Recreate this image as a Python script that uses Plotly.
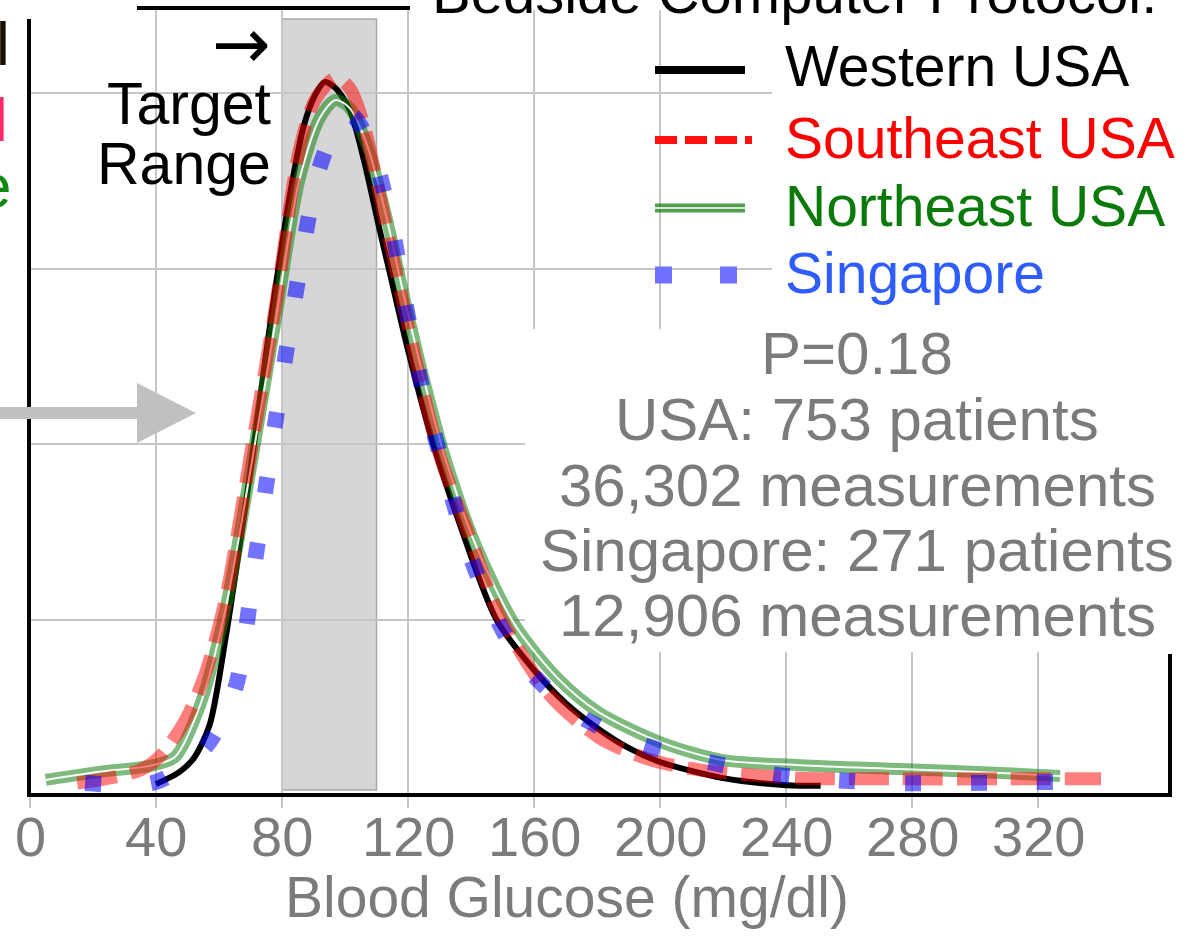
import plotly.graph_objects as go

# ---------------- data ----------------
western_x = [40, 47.5, 52, 57, 62, 70, 76, 82.5, 87, 90.5, 93.5, 97, 101.5, 106, 111, 114,
             120, 128, 136, 148, 160, 170, 180, 190, 200, 220, 240, 251]
western_y = [0.00031, 0.00066, 0.00105, 0.00199, 0.00442, 0.00926, 0.01325, 0.01709, 0.01909,
             0.01994, 0.02031, 0.02014, 0.01952, 0.01809, 0.01610, 0.01496, 0.01268, 0.01000,
             0.00783, 0.00501, 0.00356, 0.00262, 0.00191, 0.00134, 0.00094, 0.00048, 0.00028,
             0.00026]

southeast_x = [15, 25, 35, 41, 49, 55.5, 62, 70, 78, 85.5, 90.5, 97, 101.5, 106, 111, 117.5,
               124, 130, 140, 149, 165, 181, 197, 213, 229, 244, 276, 308, 340]
southeast_y = [0.00034, 0.00048, 0.00071, 0.00108, 0.00208, 0.00342, 0.00556, 0.00969, 0.01396,
               0.01838, 0.01980, 0.02043, 0.02014, 0.01909, 0.01709, 0.01439, 0.01182, 0.00969,
               0.00726, 0.00513, 0.00285, 0.00162, 0.00100, 0.00071, 0.00057, 0.00048, 0.00046,
               0.00046, 0.00046]

northeast_x = [5, 22, 38, 46, 54, 62, 70, 78, 85.5, 92, 97, 101.5, 107, 113, 119, 125.5,
               132, 141.5, 154, 167.5, 180.5, 200, 219.5, 244.5, 276, 308, 327]
northeast_y = [0.00043, 0.00066, 0.00083, 0.00108, 0.00256, 0.00527, 0.00926, 0.01353, 0.01752,
               0.01929, 0.01980, 0.01957, 0.01852, 0.01652, 0.01410, 0.01168, 0.00954, 0.00712,
               0.00484, 0.00333, 0.00236, 0.00151, 0.00100, 0.00085, 0.00074, 0.00063, 0.00054]

singapore_x = [17.5, 40, 55.5, 65, 71.5, 78, 84, 91.5, 97, 102, 108, 114.5, 119, 125, 132.5,
               138, 146, 157, 174, 192, 212.5, 235, 254, 276, 295, 317.5, 338]
singapore_y = [0.00034, 0.00037, 0.00134, 0.00299, 0.00670, 0.01068, 0.01410, 0.01775, 0.01895,
               0.01937, 0.01852, 0.01638, 0.01410, 0.01140, 0.00897, 0.00726, 0.00541, 0.00370,
               0.00228, 0.00151, 0.00100, 0.00060, 0.00043, 0.00034, 0.00034, 0.00037, 0.00037]

x_ticks = [0, 40, 80, 120, 160, 200, 240, 280, 320]
y_grid = [0.005, 0.010, 0.015, 0.020]
target_range = [80, 110]

legend_names = ["Western USA", "Southeast USA", "Northeast USA", "Singapore"]
legend_colors = ["#000000", "#ff0000", "#0a7a0a", "#2f5cff"]
stats_lines = ["P=0.18", "USA: 753 patients", "36,302 measurements",
               "Singapore: 271 patients", "12,906 measurements"]

# ---------------- layout geometry ----------------
W, H = 1204, 938
ML, MR, MT, MB = 30, 34, 10, 143
PW, PH = W - ML - MR, H - MT - MB
X_MAX = 361.9
Y_MAX = 0.022365
FONT = "Liberation Sans, Arial, Helvetica, sans-serif"
GRAY_TXT = "#7b7b7b"
GRID = "#c6c6c6"


def px(xp):
    return (xp - ML) / PW


def py(yp):
    return (H - MB - yp) / PH


def dx(xp):
    return px(xp) * X_MAX


def dy(yp):
    return py(yp) * Y_MAX


fig = go.Figure()

fig.add_trace(go.Scatter(x=western_x, y=western_y, mode="lines", name="Western USA",
                         line=dict(color="black", width=6, shape="spline", smoothing=0.8),
                         showlegend=False))
fig.add_trace(go.Scatter(x=northeast_x, y=northeast_y, mode="lines", name="Northeast USA",
                         line=dict(color="rgba(20,130,20,0.55)", width=12, shape="spline", smoothing=0.8),
                         showlegend=False))
fig.add_trace(go.Scatter(x=northeast_x, y=northeast_y, mode="lines", name="Northeast USA core",
                         line=dict(color="rgba(255,255,255,0.95)", width=2, shape="spline", smoothing=0.8),
                         showlegend=False, hoverinfo="skip"))
fig.add_trace(go.Scatter(x=southeast_x, y=southeast_y, mode="lines", name="Southeast USA",
                         line=dict(color="rgba(255,0,0,0.5)", width=13, dash="40px,14px",
                                   shape="spline", smoothing=0.8),
                         showlegend=False))
fig.add_trace(go.Scatter(x=singapore_x, y=singapore_y, mode="lines", name="Singapore",
                         line=dict(color="rgba(0,0,255,0.55)", width=16, dash="16px,50px",
                                   shape="spline", smoothing=0.8),
                         showlegend=False))

shapes = []
# target range box
shapes.append(dict(type="rect", xref="x", yref="paper", x0=target_range[0], x1=target_range[1],
                   y0=py(790), y1=py(19), fillcolor="#d6d6d6",
                   line=dict(color="#a9a9a9", width=1.5), layer="below"))
# white backgrounds hiding gridlines (between gridlines and traces)
shapes.append(dict(type="rect", xref="x", yref="y", x0=dx(772), x1=dx(1215),
                   y0=dy(330), y1=dy(-10), fillcolor="white", line=dict(width=0), layer="between"))
shapes.append(dict(type="rect", xref="x", yref="y", x0=dx(525), x1=dx(1215),
                   y0=dy(652), y1=dy(329), fillcolor="white", line=dict(width=0), layer="between"))
# axis lines
shapes.append(dict(type="line", xref="paper", yref="paper", x0=px(29), x1=px(29),
                   y0=py(797), y1=py(19), line=dict(color="black", width=4), layer="above"))
shapes.append(dict(type="line", xref="paper", yref="paper", x0=px(27), x1=px(1172),
                   y0=py(795), y1=py(795), line=dict(color="black", width=4), layer="above"))
shapes.append(dict(type="line", xref="paper", yref="paper", x0=px(1170), x1=px(1170),
                   y0=py(797), y1=py(654), line=dict(color="black", width=4), layer="above"))
# top black line
shapes.append(dict(type="line", xref="paper", yref="paper", x0=px(137), x1=px(410),
                   y0=py(8), y1=py(8), line=dict(color="black", width=4), layer="above"))
# gray arrow
arrow_path = ("M {a},{b} L {c},{b} L {c},{d} L {e},{f} L {c},{g} L {c},{h} L {a},{h} Z").format(
    a=px(-5), b=py(407), c=px(137), d=py(383), e=px(196), f=py(413), g=py(443), h=py(419))
shapes.append(dict(type="path", xref="paper", yref="paper", path=arrow_path,
                   fillcolor="#c0c0c0", line=dict(width=0), layer="above"))

# manual legend samples
leg_y = [70, 140, 208, 275]
shapes.append(dict(type="line", xref="paper", yref="paper", x0=px(655), x1=px(745),
                   y0=py(leg_y[0]), y1=py(leg_y[0]), line=dict(color="black", width=8)))
shapes.append(dict(type="line", xref="paper", yref="paper", x0=px(655), x1=px(752),
                   y0=py(leg_y[1]), y1=py(leg_y[1]), line=dict(color="#ff1010", width=8, dash="22px,8px")))
shapes.append(dict(type="line", xref="paper", yref="paper", x0=px(655), x1=px(745),
                   y0=py(leg_y[2]), y1=py(leg_y[2]), line=dict(color="rgba(20,130,20,0.75)", width=9)))
shapes.append(dict(type="line", xref="paper", yref="paper", x0=px(655), x1=px(745),
                   y0=py(leg_y[2]), y1=py(leg_y[2]), line=dict(color="white", width=1.5)))
shapes.append(dict(type="line", xref="paper", yref="paper", x0=px(655), x1=px(745),
                   y0=py(leg_y[3]), y1=py(leg_y[3]), line=dict(color="#7070ff", width=17, dash="17px,48px")))

annotations = []
for name, col, yy in zip(legend_names, legend_colors, [66, 138, 206, 273]):
    annotations.append(dict(text=name, xref="paper", yref="paper", x=px(783), y=py(yy),
                            xanchor="left", yanchor="middle", showarrow=False,
                            font=dict(family=FONT, size=57, color=col)))
for line, yy in zip(stats_lines, [353, 419, 485, 550, 615]):
    annotations.append(dict(text=line, xref="paper", yref="paper", x=px(857), y=py(yy),
                            xanchor="center", yanchor="middle", showarrow=False,
                            font=dict(family=FONT, size=60, color=GRAY_TXT)))
# x tick labels
for v in x_ticks:
    annotations.append(dict(text=str(v), xref="x", yref="paper", x=v, y=py(836),
                            xanchor="center", yanchor="middle", showarrow=False,
                            font=dict(family=FONT, size=56, color=GRAY_TXT)))
# target range label
annotations.append(dict(text="→", xref="paper", yref="paper", x=px(273), y=py(44),
                        xanchor="right", yanchor="middle", showarrow=False,
                        font=dict(family="DejaVu Sans, sans-serif", size=70, color="black")))
annotations.append(dict(text="Target", xref="paper", yref="paper", x=px(273), y=py(104),
                        xanchor="right", yanchor="middle", showarrow=False,
                        font=dict(family=FONT, size=59, color="black")))
annotations.append(dict(text="Range", xref="paper", yref="paper", x=px(273), y=py(164),
                        xanchor="right", yanchor="middle", showarrow=False,
                        font=dict(family=FONT, size=59, color="black")))
# cropped top heading
annotations.append(dict(text="Bedside Computer Protocol:", xref="paper", yref="paper",
                        x=px(430), y=py(-8), xanchor="left", yanchor="middle", showarrow=False,
                        font=dict(family=FONT, size=58, color="black")))
# cropped texts at the left edge
for t, col, xr, yy in [("l", "#1a1000", 12, 44), ("l", "#ff2a6a", 10, 120), ("e", "#118811", 13, 186)]:
    annotations.append(dict(text=t, xref="paper", yref="paper", x=px(xr), y=py(yy),
                            xanchor="right", yanchor="middle", showarrow=False,
                            font=dict(family=FONT, size=62, color=col)))
# x-axis title
annotations.append(dict(text="Blood Glucose (mg/dl)", xref="paper", yref="paper",
                        x=px(567), y=py(897), xanchor="center", yanchor="middle", showarrow=False,
                        font=dict(family=FONT, size=57, color=GRAY_TXT)))

fig.update_layout(
    width=W, height=H,
    margin=dict(l=ML, r=MR, t=MT, b=MB),
    paper_bgcolor="white", plot_bgcolor="white",
    showlegend=False,
    shapes=shapes, annotations=annotations,
    xaxis=dict(range=[0, X_MAX], tickmode="array", tickvals=x_ticks, showticklabels=False,
               showgrid=True, gridcolor=GRID, gridwidth=2,
               zeroline=False, showline=False, ticks="outside", ticklen=12, tickwidth=2,
               tickcolor=GRID),
    yaxis=dict(range=[0, Y_MAX], tickmode="array", tickvals=y_grid, showticklabels=False,
               showgrid=True, gridcolor=GRID, gridwidth=2, zeroline=False, showline=False,
               ticks=""),
)

fig.write_html("out.html")
